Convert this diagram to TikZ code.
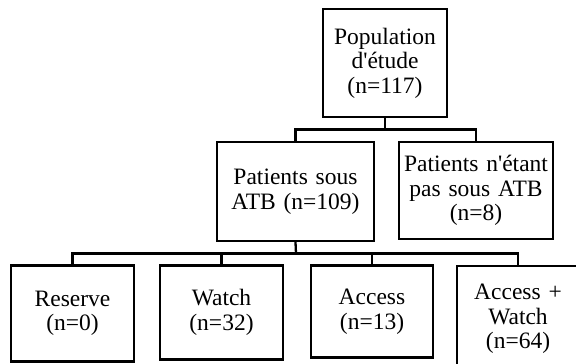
\documentclass[tikz,border=0pt]{standalone}
\usepackage{fontspec}
\setmainfont{Liberation Serif}[Ligatures=TeXOff]
\begin{document}
\begin{tikzpicture}[x=1pt,y=-1pt,
  box/.style={draw=black,line width=2.3pt,inner sep=0pt,align=center,
    font=\fontsize{23.5}{24.5}\selectfont},
  link/.style={draw=black,line width=2.3pt}]
\useasboundingbox (0,0) rectangle (576,364);
\clip (0,0) rectangle (576,364);
\node[box,minimum width=124,minimum height=108,text width=120] (pop) at (385,63) {Population\\d'étude\\(n=117)};
\node[box,minimum width=157,minimum height=99,text width=152] (sous) at (295.5,191.5) {Patients sous\\ATB (n=109)};
\node[box,minimum width=154,minimum height=97,text width=152] (pas) at (476,190.5) {Patients n'étant\\pas sous ATB\\(n=8)};
\node[box,minimum width=123,minimum height=96,text width=118] (res) at (72.5,313.5) {Reserve\\(n=0)};
\node[box,minimum width=123,minimum height=94,text width=118] (wat) at (221.5,312.5) {Watch\\(n=32)};
\node[box,minimum width=122,minimum height=92,text width=118] (acc) at (372,311.5) {Access\\(n=13)};
\node[box,minimum width=122,minimum height=106,text width=118] (aw) at (518,319) {Access +\\Watch\\(n=64)};
\coordinate (j1) at (385,129.5);
\coordinate (j2) at (296,253.5);
\draw[link] (pop.south) -- (j1);
\draw[link] (sous.north) -- (sous.north |- j1) -- (pas.north |- j1) -- (pas.north);
\draw[link] (sous.south) -- (j2);
\draw[link] (res.north) -- (res.north |- j2) -- (aw.north |- j2) -- (aw.north);
\draw[link] (wat.north) -- (wat.north |- j2);
\draw[link] (acc.north) -- (acc.north |- j2);
\end{tikzpicture}
\end{document}
